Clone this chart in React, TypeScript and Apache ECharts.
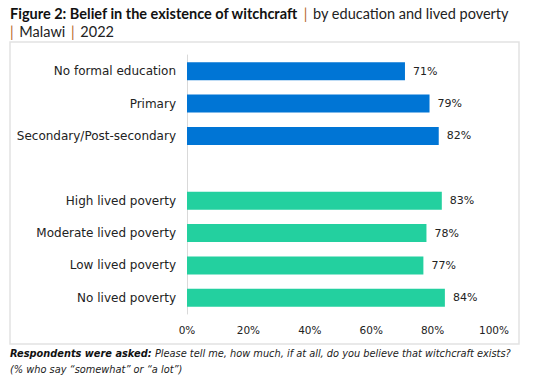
import React, { useEffect, useRef } from "react";
import * as echarts from "echarts";

const categories = [
  "No formal education",
  "Primary",
  "Secondary/Post-secondary",
  "",
  "High lived poverty",
  "Moderate lived poverty",
  "Low lived poverty",
  "No lived poverty",
];
const educationValues = [71, 79, 82];
const povertyValues = [83, 78, 77, 84];
const xTicks = [0, 20, 40, 60, 80, 100];

const BLUE = "#0075D5";
const GREEN = "#23D09F";
const FONT = "'DejaVu Sans', sans-serif";
const TFONT = "Lato, sans-serif";

export default function App() {
  const ref = useRef<HTMLDivElement>(null);
  useEffect(() => {
    document.body.style.margin = "0";
    const chart = echarts.init(ref.current!, null, { renderer: "svg" });
    const data: any[] = [
      ...educationValues.map((v) => ({ value: v, itemStyle: { color: BLUE } })),
      { value: "-" },
      ...povertyValues.map((v) => ({ value: v, itemStyle: { color: GREEN } })),
    ];
    chart.setOption({
      animation: false,
      textStyle: { fontFamily: FONT },
      title: {
        left: 10,
        top: 4,
        padding: 0,
        text:
          "{b|Figure 2: Belief in the existence of witchcraft} {p||} {r|by education and lived poverty}\n{p||} {r|Malawi} {p||} {r|2022}",
        textStyle: {
          fontWeight: "normal",
          rich: {
            b: { fontFamily: TFONT, fontWeight: "bold", fontSize: 14.5, color: "#111", lineHeight: 16 },
            r: { fontFamily: TFONT, fontWeight: "normal", fontSize: 14.5, color: "#222", lineHeight: 16 },
            p: { fontFamily: TFONT, fontWeight: "normal", fontSize: 14.5, color: "#B5651D", lineHeight: 16 },
          },
        },
      },
      graphic: [
        {
          type: "rect",
          shape: { x: 10, y: 42, width: 509, height: 302 },
          style: { fill: "none", stroke: "#E2E2E2", lineWidth: 1.5 },
          silent: true,
        },
        {
          type: "text",
          left: 10,
          top: 347,
          style: {
            text:
              "{b|Respondents were asked:} {i|Please tell me, how much, if at all, do you believe that witchcraft exists?}\n{i|(% who say \u201csomewhat\u201d or \u201ca lot\u201d)}",
            rich: {
              b: { fontFamily: FONT, fontWeight: "bold", fontStyle: "italic", fontSize: 9.8, fill: "#111", lineHeight: 16 },
              i: { fontFamily: FONT, fontStyle: "italic", fontSize: 9.8, fill: "#222", lineHeight: 16 },
            },
          },
        },
      ],
      grid: { left: 187, right: 52, top: 55, bottom: 76, containLabel: false },
      xAxis: {
        type: "value",
        min: 0,
        max: 100,
        interval: 20,
        axisLine: { show: false },
        axisTick: { show: false },
        splitLine: { show: false },
        axisLabel: {
          formatter: (v: number) => (xTicks.includes(v) ? v + "%" : ""),
          color: "#222",
          fontSize: 10.5,
          fontFamily: FONT,
          margin: 10,
        },
      },
      yAxis: {
        type: "category",
        inverse: true,
        data: categories,
        axisLine: { show: true, lineStyle: { color: "#D9D9D9", width: 1 } },
        axisTick: { show: false },
        axisLabel: { color: "#222", fontSize: 12, fontFamily: FONT, margin: 11 },
      },
      series: [
        {
          type: "bar",
          data,
          barWidth: 18,
          label: {
            show: true,
            position: "right",
            distance: 8,
            formatter: (p: any) => p.value + "%",
            color: "#222",
            fontSize: 11,
            fontFamily: FONT,
          },
        },
      ],
    });
    return () => chart.dispose();
  }, []);
  return <div ref={ref} style={{ width: 546, height: 390 }} />;
}
